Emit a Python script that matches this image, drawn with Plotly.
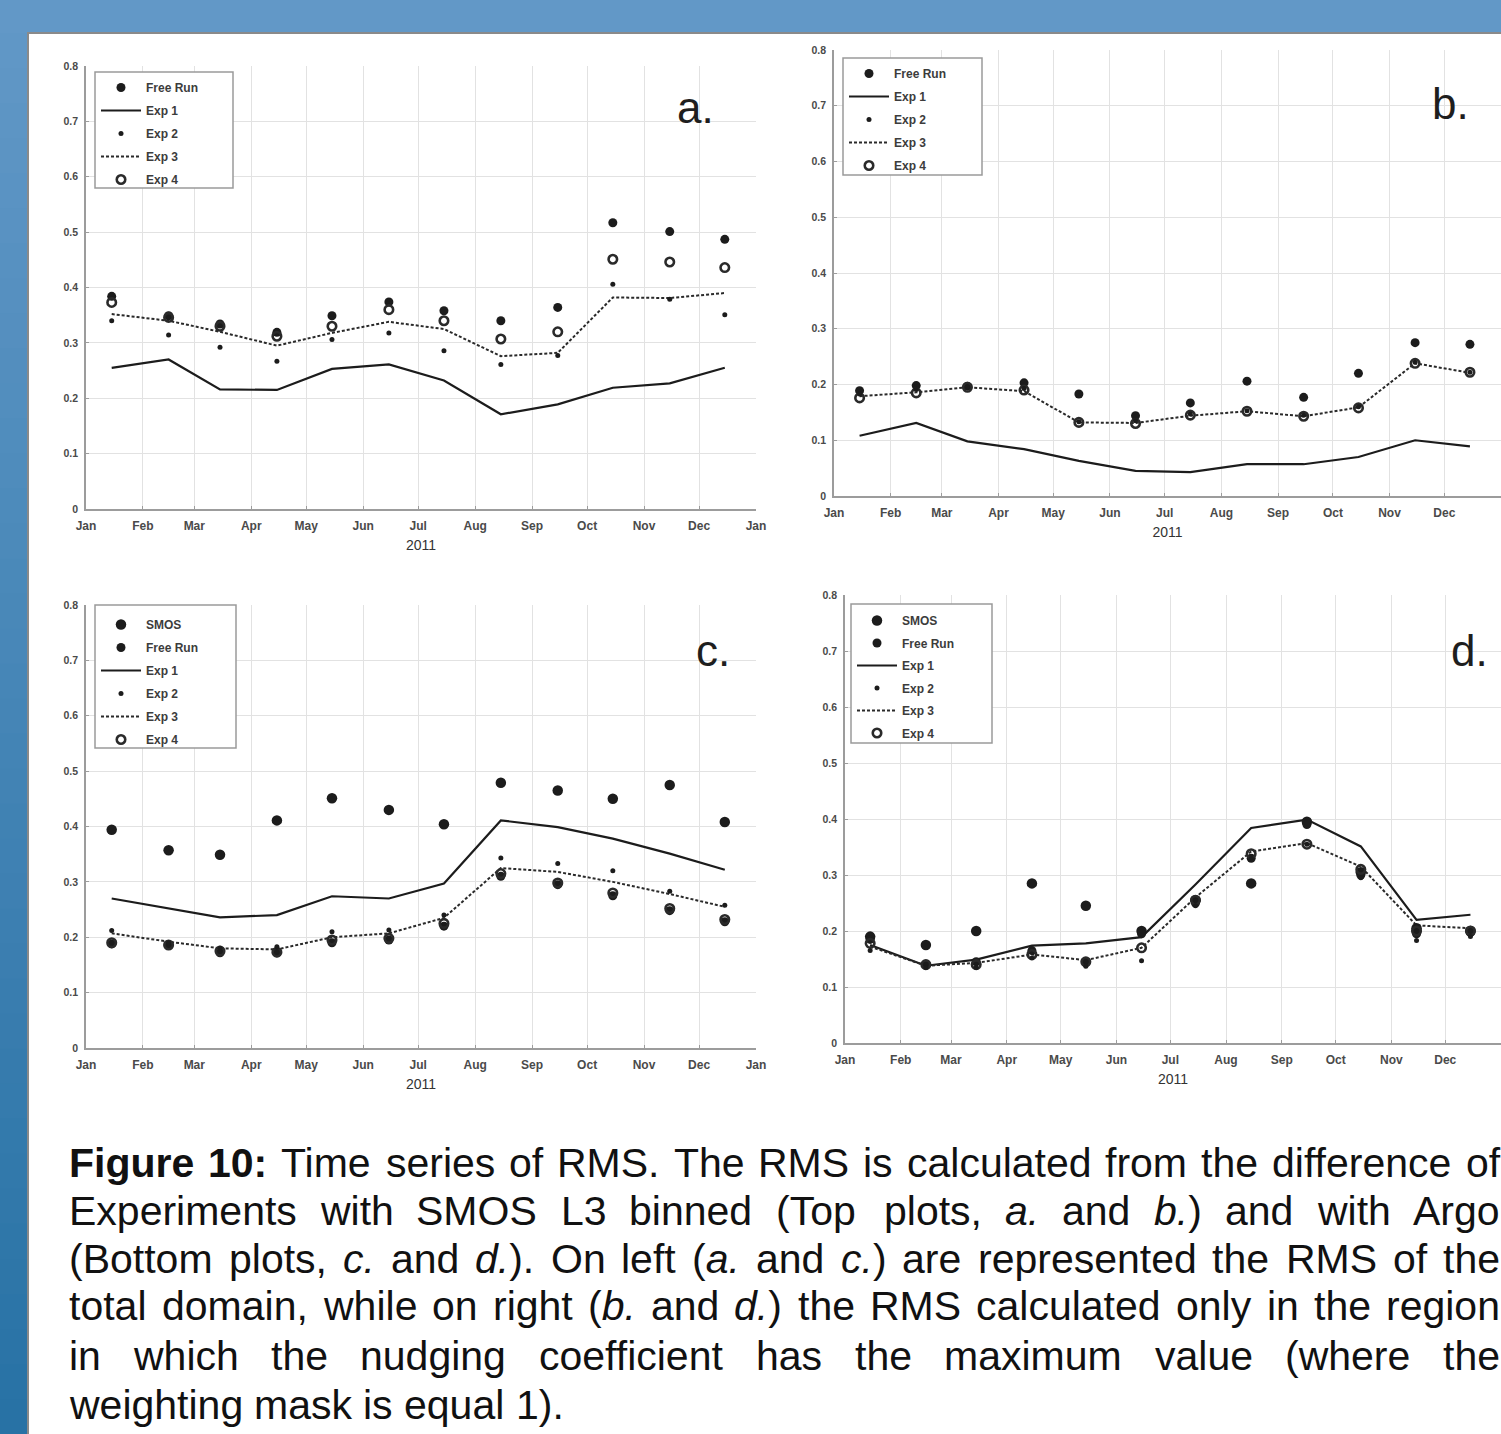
import re
import plotly.graph_objects as go

W, H = 1501, 1434

# ---------------- data ----------------
dates = [f"2011-{m:02d}-15" for m in range(1, 13)]

# panel a (RMS vs SMOS L3, total domain)
a_free_run = [0.384, 0.349, 0.334, 0.319, 0.349, 0.374, 0.358, 0.340, 0.364, 0.517, 0.501, 0.487]
a_exp1 = [0.255, 0.270, 0.216, 0.215, 0.253, 0.261, 0.232, 0.171, 0.189, 0.219, 0.227, 0.255]
a_exp2 = [0.340, 0.314, 0.292, 0.267, 0.306, 0.318, 0.286, 0.261, 0.277, 0.406, 0.379, 0.351]
a_exp3 = [0.352, 0.340, 0.320, 0.295, 0.318, 0.338, 0.325, 0.276, 0.282, 0.382, 0.381, 0.390]
a_exp4 = [0.373, 0.346, 0.330, 0.312, 0.330, 0.360, 0.340, 0.307, 0.320, 0.451, 0.446, 0.436]

# panel b (RMS vs SMOS L3, nudging region)
b_free_run = [0.189, 0.198, 0.197, 0.203, 0.183, 0.144, 0.167, 0.206, 0.177, 0.220, 0.275, 0.272]
b_exp1 = [0.108, 0.131, 0.098, 0.084, 0.063, 0.045, 0.043, 0.057, 0.057, 0.070, 0.100, 0.089]
b_exp2 = [0.183, 0.191, 0.196, 0.193, 0.133, 0.135, 0.147, 0.153, 0.145, 0.160, 0.240, 0.222]
b_exp3 = [0.179, 0.186, 0.195, 0.188, 0.132, 0.131, 0.144, 0.152, 0.143, 0.159, 0.238, 0.221]
b_exp4 = [0.176, 0.185, 0.195, 0.190, 0.132, 0.130, 0.145, 0.152, 0.143, 0.158, 0.238, 0.222]

# panel c (RMS vs Argo, total domain)
c_smos = [0.394, 0.357, 0.349, 0.411, 0.451, 0.430, 0.404, 0.479, 0.465, 0.450, 0.475, 0.408]
c_free_run = [0.188, 0.185, 0.172, 0.172, 0.190, 0.195, 0.220, 0.310, 0.295, 0.275, 0.248, 0.228]
c_exp1 = [0.270, 0.252, 0.236, 0.240, 0.274, 0.270, 0.297, 0.411, 0.399, 0.378, 0.351, 0.322]
c_exp2 = [0.212, 0.190, 0.180, 0.183, 0.210, 0.213, 0.240, 0.343, 0.333, 0.320, 0.283, 0.258]
c_exp3 = [0.207, 0.192, 0.180, 0.178, 0.200, 0.207, 0.235, 0.325, 0.318, 0.300, 0.278, 0.255]
c_exp4 = [0.190, 0.186, 0.175, 0.173, 0.195, 0.198, 0.225, 0.315, 0.298, 0.280, 0.252, 0.232]

# panel d (RMS vs Argo, nudging region)
d_smos = [0.190, 0.175, 0.200, 0.285, 0.245, 0.200, 0.255, 0.285, 0.395, 0.305, 0.205, 0.200]
d_free_run = [0.185, 0.140, 0.145, 0.165, 0.145, 0.195, 0.250, 0.330, 0.390, 0.300, 0.195, 0.197]
d_exp1 = [0.175, 0.138, 0.149, 0.174, 0.178, 0.189, 0.283, 0.384, 0.399, 0.351, 0.220, 0.229]
d_exp2 = [0.165, 0.135, 0.135, 0.152, 0.137, 0.147, 0.245, 0.330, 0.355, 0.295, 0.183, 0.190]
d_exp3 = [0.172, 0.138, 0.143, 0.158, 0.148, 0.170, 0.260, 0.342, 0.357, 0.315, 0.210, 0.205]
d_exp4 = [0.178, 0.140, 0.140, 0.158, 0.145, 0.170, 0.255, 0.338, 0.355, 0.310, 0.200, 0.200]

y_ticks = [0, 0.1, 0.2, 0.3, 0.4, 0.5, 0.6, 0.7, 0.8]
panel_labels = ["a.", "b.", "c.", "d."]
caption_lines = [
    "<b>Figure</b> <b>10:</b> Time series of RMS. The RMS is calculated from the difference of",
    "Experiments with SMOS L3 binned (Top plots, <i>a.</i> and <i>b.</i>) and with Argo",
    "(Bottom plots, <i>c.</i> and <i>d.</i>). On left (<i>a.</i> and <i>c.</i>) are represented the RMS of the",
    "total domain, while on right (<i>b.</i> and <i>d.</i>) the RMS calculated only in the region",
    "in which the nudging coefficient has the maximum value (where the",
    "weighting mask is equal 1).",
]

# ---------------- figure ----------------
FONT = "Liberation Sans, Arial, sans-serif"
INK = "#1c1c1c"
fig = go.Figure()

def xd(x0, x1):
    return [x0 / W, x1 / W]

def yd(top, bottom):
    return [1 - bottom / H, 1 - top / H]

panels = [
    # (axis suffix, legend name, xdomain px, ydomain px, legend box px, label pos, legend top px)
    ("", "legend", (86, 756), (66, 509), (95, 72, 233, 188), (695, 108), 73),
    ("2", "legend2", (834, 1501), (50, 496), (843, 58, 982, 175), (1450, 103), 59),
    ("3", "legend3", (86, 756), (605, 1048), (95, 605, 236, 748), (713, 650), 610),
    ("4", "legend4", (845, 1501), (595, 1043), (851, 604, 992, 743), (1469, 650), 606),
]
x_ranges = [["2011-01-01", "2012-01-01"]] * 4

series = [
    dict(smos=None, free=a_free_run, e1=a_exp1, e2=a_exp2, e3=a_exp3, e4=a_exp4),
    dict(smos=None, free=b_free_run, e1=b_exp1, e2=b_exp2, e3=b_exp3, e4=b_exp4),
    dict(smos=c_smos, free=c_free_run, e1=c_exp1, e2=c_exp2, e3=c_exp3, e4=c_exp4),
    dict(smos=d_smos, free=d_free_run, e1=d_exp1, e2=d_exp2, e3=d_exp3, e4=d_exp4),
]

shapes = []
annotations = []

# background: blue slide, white page
n_strip = 40
top_c = (0x60, 0x97, 0xc6)
bot_c = (0x28, 0x72, 0xa5)
for i in range(n_strip):
    t = i / (n_strip - 1)
    c = tuple(int(round(top_c[k] + (bot_c[k] - top_c[k]) * t)) for k in range(3))
    y_top = 33 + (H - 33) * i / n_strip
    y_bot = 33 + (H - 33) * (i + 1) / n_strip
    shapes.append(dict(type="rect", xref="paper", yref="paper",
                       x0=0, x1=28 / W, y0=1 - y_bot / H - 0.001, y1=1 - y_top / H,
                       fillcolor="rgb(%d,%d,%d)" % c, line=dict(width=0), layer="below"))
shapes.append(dict(type="rect", xref="paper", yref="paper", x0=28 / W, x1=1.01,
                   y0=-0.01, y1=1 - 33 / H, fillcolor="white",
                   line=dict(color="#8a8a8a", width=2), layer="below"))

for idx, (suf, leg, (x0, x1), (yt, yb), lbox, lpos, ltop) in enumerate(panels):
    xa = "x" + suf
    ya = "y" + suf
    s = series[idx]
    common = dict(xaxis=xa, yaxis=ya, legend=leg)
    # lines first (drawn beneath markers)
    fig.add_trace(go.Scatter(x=dates, y=s["e1"], mode="lines", name="Exp 1",
                             line=dict(color=INK, width=2.2), legendrank=3,
                             legendgroup=f"{idx}e1", **common))
    fig.add_trace(go.Scatter(x=dates, y=s["e3"], mode="lines", name="Exp 3",
                             line=dict(color="#2a2a2a", width=2, dash="3px,2px"),
                             legendrank=5, legendgroup=f"{idx}e3", **common))
    if s["smos"] is not None:
        fig.add_trace(go.Scatter(x=dates, y=s["smos"], mode="markers", name="SMOS",
                                 marker=dict(color=INK, size=10.5, symbol="circle"),
                                 legendrank=1, legendgroup=f"{idx}sm", **common))
    fig.add_trace(go.Scatter(x=dates, y=s["free"], mode="markers", name="Free Run",
                             marker=dict(color=INK, size=9, symbol="circle"),
                             legendrank=2, legendgroup=f"{idx}fr", **common))
    fig.add_trace(go.Scatter(x=dates, y=s["e4"], mode="markers", name="Exp 4",
                             marker=dict(color="#2a2a2a", size=8.5, symbol="circle-open",
                                         line=dict(width=2.6, color="#2a2a2a")),
                             legendrank=6, legendgroup=f"{idx}e4", **common))
    fig.add_trace(go.Scatter(x=dates, y=s["e2"], mode="markers", name="Exp 2",
                             marker=dict(color=INK, size=5, symbol="circle"),
                             legendrank=4, legendgroup=f"{idx}e2", **common))

    fig.update_layout(**{
        "xaxis" + suf: dict(
            domain=xd(x0, x1), anchor=ya, type="date", range=x_ranges[idx],
            tick0="2011-01-01", dtick="M1", tickformat="%b", automargin=False,
            showgrid=True, gridcolor="#e2e2e2", gridwidth=1,
            showline=True, linecolor="#9c9c9c", linewidth=1.5,
            ticks="inside", ticklen=3, tickcolor="#9c9c9c", ticklabelstandoff=5,
            tickfont=dict(family=FONT, size=12, color="#4a4a4a", weight="bold"),
            zeroline=False, fixedrange=True,
            title=dict(text="2011", font=dict(family=FONT, size=14, color="#333333"),
                       standoff=8)),
        "yaxis" + suf: dict(
            domain=yd(yt, yb), anchor=xa, range=[0, 0.8], automargin=False,
            tickvals=y_ticks, ticktext=[("%g" % v) for v in y_ticks],
            showgrid=True, gridcolor="#e2e2e2", gridwidth=1,
            showline=True, linecolor="#9c9c9c", linewidth=1.5,
            ticks="inside", ticklen=3, tickcolor="#9c9c9c", ticklabelstandoff=4,
            tickfont=dict(family=FONT, size=10.5, color="#4a4a4a", weight="bold"),
            zeroline=False, fixedrange=True),
        leg: dict(x=(lbox[0] + 1) / W, y=1 - ltop / H, xanchor="left",
                  yanchor="top", bgcolor="rgba(0,0,0,0)", borderwidth=0,
                  font=dict(family=FONT, size=12, color="#3c3c3c", weight="bold"),
                  tracegroupgap=4 if idx < 3 else 3.5, itemwidth=40,
                  traceorder="grouped"),
    })
    # legend box
    shapes.append(dict(type="rect", xref="paper", yref="paper",
                       x0=lbox[0] / W, x1=lbox[2] / W, y0=1 - lbox[3] / H, y1=1 - lbox[1] / H,
                       fillcolor="white", line=dict(color="#9a9a9a", width=1.5), layer="above"))
    annotations.append(dict(text=panel_labels[idx], xref="paper", yref="paper",
                            x=lpos[0] / W, y=1 - lpos[1] / H, xanchor="center",
                            yanchor="middle", showarrow=False,
                            font=dict(family=FONT, size=44, color="#1e1e1e")))

# ---------------- caption (justified like the original page) ----------------
REG = {' ': 278, '(': 333, ')': 333, ',': 278, '.': 278, ':': 278, '0': 556, '1': 556,
       '2': 556, '3': 556, 'A': 667, 'B': 667, 'E': 667, 'F': 611, 'L': 556, 'M': 833,
       'O': 778, 'R': 722, 'S': 667, 'T': 611}
for ch in "abdeghnopqu":
    REG[ch] = 556
for ch in "cksvxyz":
    REG[ch] = 500
REG.update({'f': 278, 't': 278, 'i': 222, 'j': 222, 'l': 222, 'm': 833, 'r': 333, 'w': 722})
BOLD = {'F': 611, 'i': 278, 'g': 611, 'u': 611, 'r': 389, 'e': 556, '1': 556, '0': 556, ':': 333}

CAP_SIZE = 41
X_LEFT, X_RIGHT = 68, 1499
line_y = [1163, 1211, 1259, 1306, 1356, 1405]

def word_width(w):
    bold = w.startswith("<b>")
    plain = re.sub(r"<[^>]+>", "", w)
    table = BOLD if bold else REG
    return sum(table.get(ch, 556) for ch in plain) / 1000 * CAP_SIZE

for li, line in enumerate(caption_lines):
    words = line.split(" ")
    widths = [word_width(w) for w in words]
    total = sum(widths)
    space = REG[' '] / 1000 * CAP_SIZE
    if li < len(caption_lines) - 1 and len(words) > 1:
        gap = max(space, (X_RIGHT - X_LEFT - total) / (len(words) - 1))
    else:
        gap = space
    x = X_LEFT
    for w, ww in zip(words, widths):
        annotations.append(dict(text=w, xref="paper", yref="paper", x=x / W,
                                y=1 - line_y[li] / H, xanchor="left", yanchor="middle",
                                showarrow=False, borderpad=0,
                                font=dict(family=FONT, size=CAP_SIZE, color="#111111")))
        x += ww + gap

fig.update_layout(
    width=W, height=H, margin=dict(l=0, r=0, t=0, b=0, autoexpand=False),
    paper_bgcolor="#6298c7", plot_bgcolor="rgba(0,0,0,0)",
    showlegend=True, shapes=shapes, annotations=annotations,
    font=dict(family=FONT),
)

fig.write_html(
    "out.html",
    config={"displayModeBar": False},
    post_script="document.body.style.margin='0';document.body.style.overflow='hidden';",
)
